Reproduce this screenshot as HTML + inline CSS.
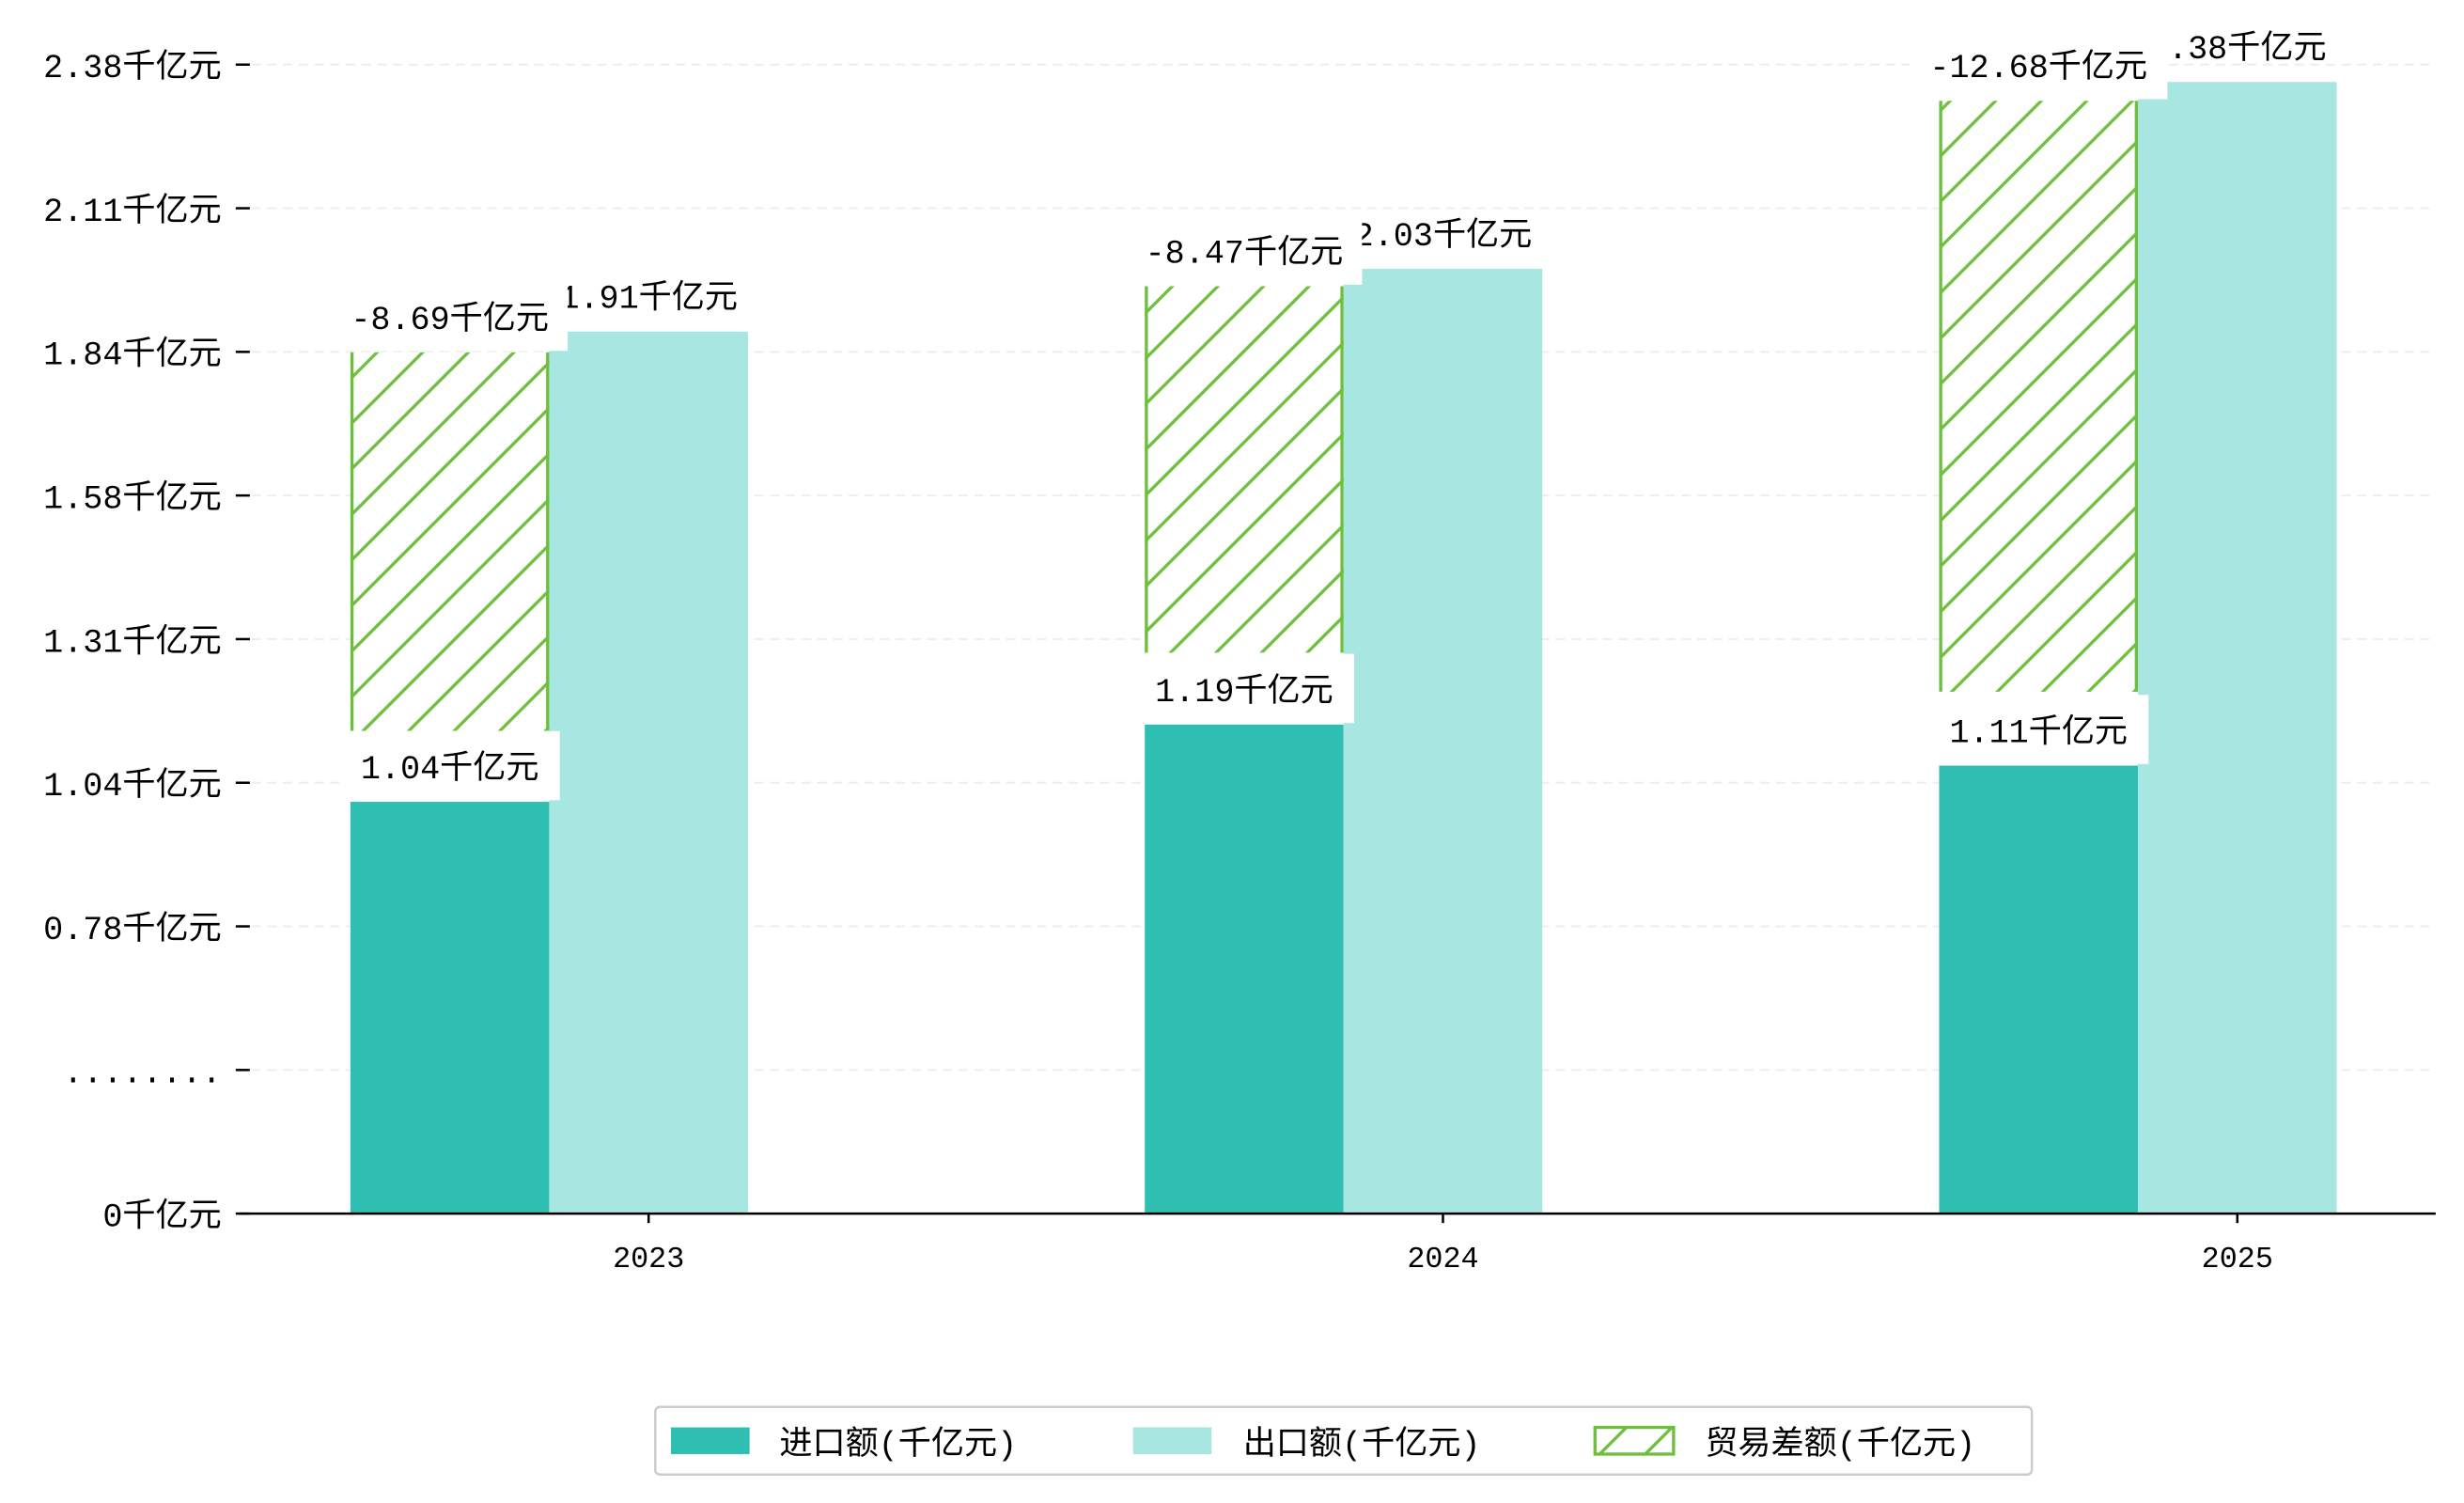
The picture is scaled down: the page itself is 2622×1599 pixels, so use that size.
<!DOCTYPE html>
<html><head><meta charset="utf-8"><style>
html,body{margin:0;padding:0;background:#fff;}
svg{display:block;}
text{font-family:"Liberation Mono","WenQuanYi Zen Hei","Noto Sans CJK SC",monospace;}
</style></head><body>
<svg id="chart" width="2622" height="1599" viewBox="0 0 1568 956" xmlns="http://www.w3.org/2000/svg">
<defs>
<pattern id="hatch" patternUnits="userSpaceOnUse" width="29" height="29">
<rect width="29" height="29" fill="#fff"/>
<path d="M-2,31 L31,-2 M-31,31 L31,-31 M-2,60 L60,-2" stroke="#6fbf3f" stroke-width="2"/>
</pattern>
</defs>
<g id="grid"></g><g id="bars"></g><g id="labels"></g><g id="axes"></g>
<g id="legend">
<rect x="417" y="895" width="876" height="43" fill="#fff" stroke="#ccc" stroke-width="1.5" rx="3"/>
<rect x="427" y="908" width="50" height="17" fill="#2fbfb2"/>
<text x="496" y="925" font-size="21">进口额(千亿元)</text>
<rect x="721" y="908" width="50" height="17" fill="#a8e7e1"/>
<text x="791" y="925" font-size="21">出口额(千亿元)</text>
<rect x="1015" y="908" width="50" height="17" fill="url(#hatch)" stroke="#6fbf3f" stroke-width="2"/>
<text x="1085" y="925" font-size="21">贸易差额(千亿元)</text>
</g>
</svg>
<script>
const categories = ["2023","2024","2025"];
const importValues = [0.853, 1.013, 0.928];
const exportValues = [1.827, 1.957, 2.344];
const balanceBottom = [1.0, 1.162, 1.081];
const balanceTop = [1.784, 1.921, 2.305];
const importLabels = ["1.04千亿元","1.19千亿元","1.11千亿元"];
const exportLabels = ["1.91千亿元","2.03千亿元","2.38千亿元"];
const balanceLabels = ["-8.69千亿元","-8.47千亿元","-12.68千亿元"];
const yTickValues = [0,0.2975,0.595,0.8925,1.19,1.4875,1.785,2.0825,2.38];
const yTickLabels = ["0千亿元","........","0.78千亿元","1.04千亿元","1.31千亿元","1.58千亿元","1.84千亿元","2.11千亿元","2.38千亿元"];

const NS="http://www.w3.org/2000/svg";
const y0=772, yTop=41, yMaxV=2.38;
function yScale(v){return y0-(v/yMaxV)*(y0-yTop);}
const groupStart=223, groupStep=505.5, bw=126.5;
function xGroup(i){return groupStart+i*groupStep;}
function mk(tag,attrs,parent){const e=document.createElementNS(NS,tag);for(const k in attrs)e.setAttribute(k,attrs[k]);parent.appendChild(e);return e;}
const grid=document.getElementById('grid'),bars=document.getElementById('bars'),labels=document.getElementById('labels'),axes=document.getElementById('axes');

yTickValues.forEach((v,k)=>{
  const y=yScale(v);
  if(k>0){const g=mk('line',{x1:160,x2:1550,y1:y,y2:y,stroke:'#eee','stroke-dasharray':'6,4','stroke-width':1.2},grid);
  
  }
  const t=mk('line',{x1:150,x2:159,y1:y,y2:y,stroke:'#000','stroke-width':1.5},axes);
  
  
  const tx=mk('text',{x:141,y:y+8,'text-anchor':'end','font-size':21},axes);
  tx.textContent=yTickLabels[k];
  
  
});
const ax=mk('line',{x1:152,x2:1550,y1:y0,y2:y0,stroke:'#000','stroke-width':1.5},axes);



function labelBox(x,y,w,txt,name){
  const g=mk('g',{},labels);
  
  
  mk('rect',{x:x-w/2,y:y-23,width:w,height:44,fill:'#fff'},g);
  const t=mk('text',{x:x,y:y+7,'text-anchor':'middle','font-size':21},g);
  t.textContent=txt;
}

categories.forEach((c,i)=>{
  const x=xGroup(i);
  const r1=mk('rect',{x:x,y:yScale(importValues[i]),width:bw,height:y0-yScale(importValues[i]),fill:'#2fbfb2'},bars);
  
  
  const r2=mk('rect',{x:x+bw,y:yScale(exportValues[i]),width:bw,height:y0-yScale(exportValues[i]),fill:'#a8e7e1'},bars);
  
  
  const yt=yScale(balanceTop[i]), yb=yScale(balanceBottom[i]);
  const r3=mk('rect',{x:x,y:yt,width:bw,height:yb-yt,fill:'url(#hatch)'},bars);
  
  
  mk('line',{x1:x+1,x2:x+1,y1:yt,y2:yb,stroke:'#6fbf3f','stroke-width':2},bars);
  mk('line',{x1:x+bw-1,x2:x+bw-1,y1:yt,y2:yb,stroke:'#6fbf3f','stroke-width':2},bars);
  const et=mk('text',{x:x+bw*1.5,y:yScale(exportValues[i])-15,'text-anchor':'middle','font-size':21},labels);
  et.textContent=exportLabels[i];
  
  
  labelBox(x+bw/2,yt-22,i===2?164:150,balanceLabels[i],'balance-value-label');
  labelBox(x+bw/2,yScale(importValues[i])-22,140,importLabels[i],'import-value-label');
  const xt=mk('text',{x:x+bw*1.5,y:806,'text-anchor':'middle','font-size':19},axes);
  xt.textContent=c;
  
  
  const xtk=mk('line',{x1:x+bw*1.5,x2:x+bw*1.5,y1:y0,y2:y0+6,stroke:'#000','stroke-width':1.5},axes);
  
  
});
</script>
</body></html>
